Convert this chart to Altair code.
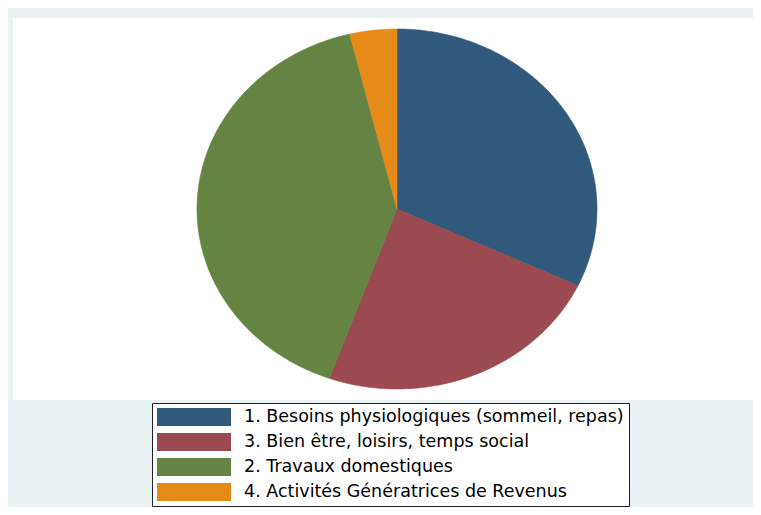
import altair as alt
import numpy as np
import pandas as pd

# Categories in drawing order (clockwise from 12 o'clock) and legend order
categories = [
    "1. Besoins physiologiques (sommeil, repas)",
    "3. Bien être, loisirs, temps social",
    "2. Travaux domestiques",
    "4. Activités Génératrices de Revenus",
]
shares = [32.0, 23.5, 40.7, 3.8]  # percent of time
colors = ["#31597B", "#9A4A50", "#658343", "#E68A19"]

STEPS = 180
starts = np.concatenate([[0.0], np.cumsum(shares)[:-1]])
rows = []
for cat, share, start in zip(categories, shares, starts):
    for k in range(-1, STEPS + 2):
        rows.append({"category": cat, "share": share, "start": float(start), "k": k})
df = pd.DataFrame(rows)

total = float(sum(shares))

pie = (
    alt.Chart(df)
    .transform_calculate(
        frac=f"clamp(datum.k, 0, {STEPS}) / {STEPS}",
        ang=f"2 * PI * (datum.start + datum.share * datum.frac) / {total}",
        edge=f"(datum.k >= 0 && datum.k <= {STEPS}) ? 1 : 0",
        px="datum.edge * sin(datum.ang)",
        py="datum.edge * cos(datum.ang)",
    )
    .mark_line(filled=True, strokeWidth=0.6, interpolate="linear")
    .encode(
        x=alt.X("px:Q", scale=alt.Scale(domain=[-1.92, 1.78], nice=False, zero=False), axis=None),
        y=alt.Y("py:Q", scale=alt.Scale(domain=[-1.0611, 1.0611], nice=False, zero=False), axis=None),
        color=alt.Color(
            "category:N",
            scale=alt.Scale(domain=categories, range=colors),
            sort=categories,
            legend=alt.Legend(
                title=None,
                orient="none",
                legendX=139,
                legendY=385,
                symbolType="M-1,-1H7.222V1H-1Z",
                symbolSize=324,
                symbolStrokeWidth=0,
                symbolOpacity=1,
                labelFont="DejaVu Sans",
                labelFontSize=17.5,
                labelColor="black",
                labelOffset=69,
                labelLimit=700,
                rowPadding=7,
                padding=5,
                fillColor="white",
                strokeColor="#222222",
            ),
        ),
        stroke=alt.Stroke(
            "category:N",
            scale=alt.Scale(domain=categories, range=colors),
            legend=None,
        ),
        order=alt.Order("k:Q"),
    )
)

chart = (
    pie.properties(
        width=740,
        height=382,
        autosize=alt.AutoSizeParams(type="none"),
        padding={"left": 5, "top": 10, "right": 0, "bottom": 107},
        background="#EAF2F3",
    )
    .configure_view(fill="white", strokeWidth=0)
)

chart.save("out.html", embed_options={"renderer": "svg", "actions": False})
